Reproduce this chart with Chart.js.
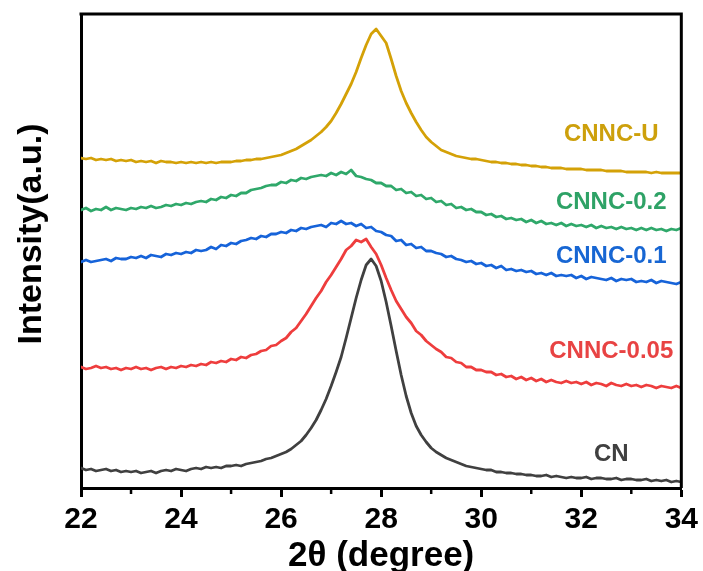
<!DOCTYPE html>
<html>
<head>
<meta charset="utf-8">
<script src="https://cdn.jsdelivr.net/npm/chart.js@4"></script>
<style>
  html, body { margin: 0; padding: 0; background: #ffffff; }
  #wrap { width: 703px; height: 571px; position: relative; }
</style>
</head>
<body>
<div id="wrap"><canvas id="c" width="703" height="571"></canvas></div>
<script>
// 2θ (degree) sampling positions
const twoTheta = [
  22.0,22.1,22.2,22.3,22.4,22.5,22.6,22.7,22.8,22.9,
  23.0,23.1,23.2,23.3,23.4,23.5,23.6,23.7,23.8,23.9,
  24.0,24.1,24.2,24.3,24.4,24.5,24.6,24.7,24.8,24.9,
  25.0,25.1,25.2,25.3,25.4,25.5,25.6,25.7,25.8,25.9,
  26.0,26.1,26.2,26.3,26.4,26.5,26.6,26.7,26.8,26.9,
  27.0,27.1,27.2,27.3,27.4,27.5,27.6,27.7,27.8,27.9,
  28.0,28.1,28.2,28.3,28.4,28.5,28.6,28.7,28.8,28.9,
  29.0,29.1,29.2,29.3,29.4,29.5,29.6,29.7,29.8,29.9,
  30.0,30.1,30.2,30.3,30.4,30.5,30.6,30.7,30.8,30.9,
  31.0,31.1,31.2,31.3,31.4,31.5,31.6,31.7,31.8,31.9,
  32.0,32.1,32.2,32.3,32.4,32.5,32.6,32.7,32.8,32.9,
  33.0,33.1,33.2,33.3,33.4,33.5,33.6,33.7,33.8,33.9,
  34.0
];
const seriesNames = ["CN", "CNNC-0.05", "CNNC-0.1", "CNNC-0.2", "CNNC-U"];
// intensities (a.u., vertically offset as in the figure)
const cn = [
  20,18,19,17,18,19,17,18,16,17,
  16,17,15,16,17,15,17,18,17,19,
  18,17,19,20,19,21,20,21,20,22,
  22,23,22,24,25,26,27,29,30,32,
  34,36,39,43,47,53,60,68,78,89,
  102,116,131,150,170,190,208,223,229,222,
  207,186,162,137,113,92,75,62,53,46,
  40,36,33,30,28,26,24,22,21,20,
  19,18,18,16,16,15,15,14,14,13,
  13,12,12,13,11,12,11,10,11,10,
  10,11,9,10,10,9,9,10,8,9,
  9,8,8,9,7,8,7,8,6,7,
  6
];
const cnnc005 = [
  121,119,120,122,120,121,119,120,118,120,
  119,121,119,120,118,120,121,119,121,120,
  122,121,123,122,124,123,126,125,127,126,
  129,128,131,130,133,134,137,138,142,143,
  147,150,156,160,167,174,182,190,197,206,
  213,221,229,238,242,248,246,249,241,234,
  223,210,198,187,179,171,165,157,153,147,
  143,139,136,131,130,126,125,121,121,118,
  118,116,116,113,114,111,112,109,111,108,
  110,107,109,106,108,106,105,107,105,106,
  104,106,103,105,104,102,105,103,102,104,
  102,103,101,103,102,100,102,101,100,102,
  100
];
const cnnc01 = [
  226,228,226,227,228,229,227,230,229,229,
  231,230,232,230,233,232,231,234,233,235,
  234,236,235,238,237,238,241,239,243,242,
  245,244,247,248,250,249,252,251,254,254,
  256,255,258,257,260,259,261,262,263,261,
  265,264,267,264,265,262,264,260,261,257,
  256,253,252,247,248,243,244,240,241,237,
  237,235,234,231,232,229,228,226,227,224,
  225,222,223,220,222,218,219,217,218,216,
  217,214,215,213,215,212,213,212,213,210,
  212,209,211,210,209,208,210,207,209,208,
  209,206,207,206,208,205,207,206,205,204,
  206
];
const cnnc02 = [
  278,280,277,279,278,281,278,280,279,278,
  280,279,281,280,282,280,281,283,282,284,
  283,285,284,286,287,286,289,288,291,290,
  293,292,295,295,298,299,300,302,303,303,
  306,305,308,307,310,309,311,312,313,312,
  315,313,316,314,318,312,311,309,308,305,
  305,302,302,298,299,295,296,292,293,289,
  290,286,287,283,284,280,281,278,279,276,
  276,273,274,271,272,269,270,268,269,266,
  268,265,267,264,265,263,265,262,264,262,
  263,261,263,260,262,260,261,259,261,259,
  260,258,260,258,260,258,259,257,259,258,
  260
];
const cnncU = [
  330,329,330,328,329,328,329,327,328,327,
  328,326,327,326,327,325,327,326,326,325,
  326,325,326,325,326,325,326,325,326,326,
  326,327,327,328,328,329,329,330,331,332,
  333,335,337,339,342,345,348,352,356,361,
  367,375,384,394,404,416,430,443,454,459,
  452,445,429,412,397,385,375,366,358,351,
  346,342,338,336,334,332,331,330,329,329,
  328,327,326,326,325,325,324,324,323,323,
  322,322,321,321,320,320,320,319,319,319,
  319,318,318,318,318,317,317,317,317,316,
  316,316,316,316,315,316,315,315,315,315,
  315
];
const xTicks = [22, 24, 26, 28, 30, 32, 34];
const minorTicks = [23, 25, 27, 29, 31, 33];
const xTitle = "2θ (degree)";
const yTitle = "Intensity(a.u.)";

const lineColors = ["#404040", "#EE3D3D", "#1663D9", "#2FA86A", "#D4A107"];
const labelColors = ["#404040", "#E84343", "#1766D3", "#2EA266", "#CDA00C"];
const allSeries = [cn, cnnc005, cnnc01, cnnc02, cnncU];

const FONT = "'Liberation Sans', Arial, Helvetica, sans-serif";

const datasets = allSeries.map((vals, i) => ({
  label: seriesNames[i],
  data: twoTheta.map((t, k) => ({ x: t, y: vals[k] })),
  borderColor: lineColors[i],
  borderWidth: 2.8,
  borderJoinStyle: 'round',
  borderCapStyle: 'round',
  pointRadius: 0,
  fill: false,
  tension: 0
}));

// label anchor positions (data coordinates)
const labelAnchors = [
  { x: 32.6, y: 34 },
  { x: 32.6, y: 137 },
  { x: 32.6, y: 232 },
  { x: 32.6, y: 286 },
  { x: 32.6, y: 354 }
];

const framePlugin = {
  id: 'frame',
  afterDatasetsDraw(chart) {
    const { ctx, chartArea: a, scales } = chart;
    ctx.save();
    ctx.strokeStyle = '#000';
    ctx.lineWidth = 3;
    ctx.beginPath();
    ctx.moveTo(a.left - 1.5, a.top);
    ctx.lineTo(a.right, a.top);
    ctx.lineTo(a.right, a.bottom);
    ctx.stroke();
    // minor ticks
    ctx.lineWidth = 2.5;
    minorTicks.forEach(v => {
      const px = scales.x.getPixelForValue(v);
      ctx.beginPath();
      ctx.moveTo(px, a.bottom);
      ctx.lineTo(px, a.bottom + 6);
      ctx.stroke();
    });
    // series labels
    ctx.font = "bold 24px " + FONT;
    ctx.textAlign = 'center';
    ctx.textBaseline = 'middle';
    labelAnchors.forEach((p, i) => {
      ctx.fillStyle = labelColors[i];
      ctx.fillText(seriesNames[i], scales.x.getPixelForValue(p.x), scales.y.getPixelForValue(p.y));
    });
    // axis titles
    ctx.fillStyle = '#000';
    ctx.font = "bold 35px " + FONT;
    ctx.fillText(xTitle, (a.left + a.right) / 2, 556);
    ctx.translate(32, 234);
    ctx.rotate(-Math.PI / 2);
    ctx.font = "bold 34px " + FONT;
    ctx.fillText(yTitle, 0, 0);
    ctx.restore();
  }
};

new Chart(document.getElementById('c'), {
  type: 'line',
  data: { datasets },
  options: {
    responsive: false,
    animation: false,
    devicePixelRatio: 1,
    layout: { padding: { top: 14, right: 20, left: 0, bottom: 0 } },
    plugins: { legend: { display: false }, tooltip: { enabled: false } },
    scales: {
      x: {
        type: 'linear',
        min: 22, max: 34,
        afterBuildTicks(scale) { scale.ticks = xTicks.map(v => ({ value: v })); },
        afterFit(scale) { scale.height = 83; },
        grid: { drawOnChartArea: false, drawTicks: true, tickLength: 9, tickWidth: 3, tickColor: '#000' },
        border: { display: true, color: '#000', width: 3 },
        ticks: { color: '#000', font: { family: FONT, size: 30, weight: 'bold' }, padding: 5, maxRotation: 0 },
        title: { display: false }
      },
      y: {
        min: 0, max: 474,
        afterFit(scale) { scale.width = 81; },
        grid: { display: false, drawTicks: false },
        border: { display: true, color: '#000', width: 3 },
        ticks: { display: false },
        title: { display: false }
      }
    }
  },
  plugins: [framePlugin]
});
</script>
</body>
</html>
